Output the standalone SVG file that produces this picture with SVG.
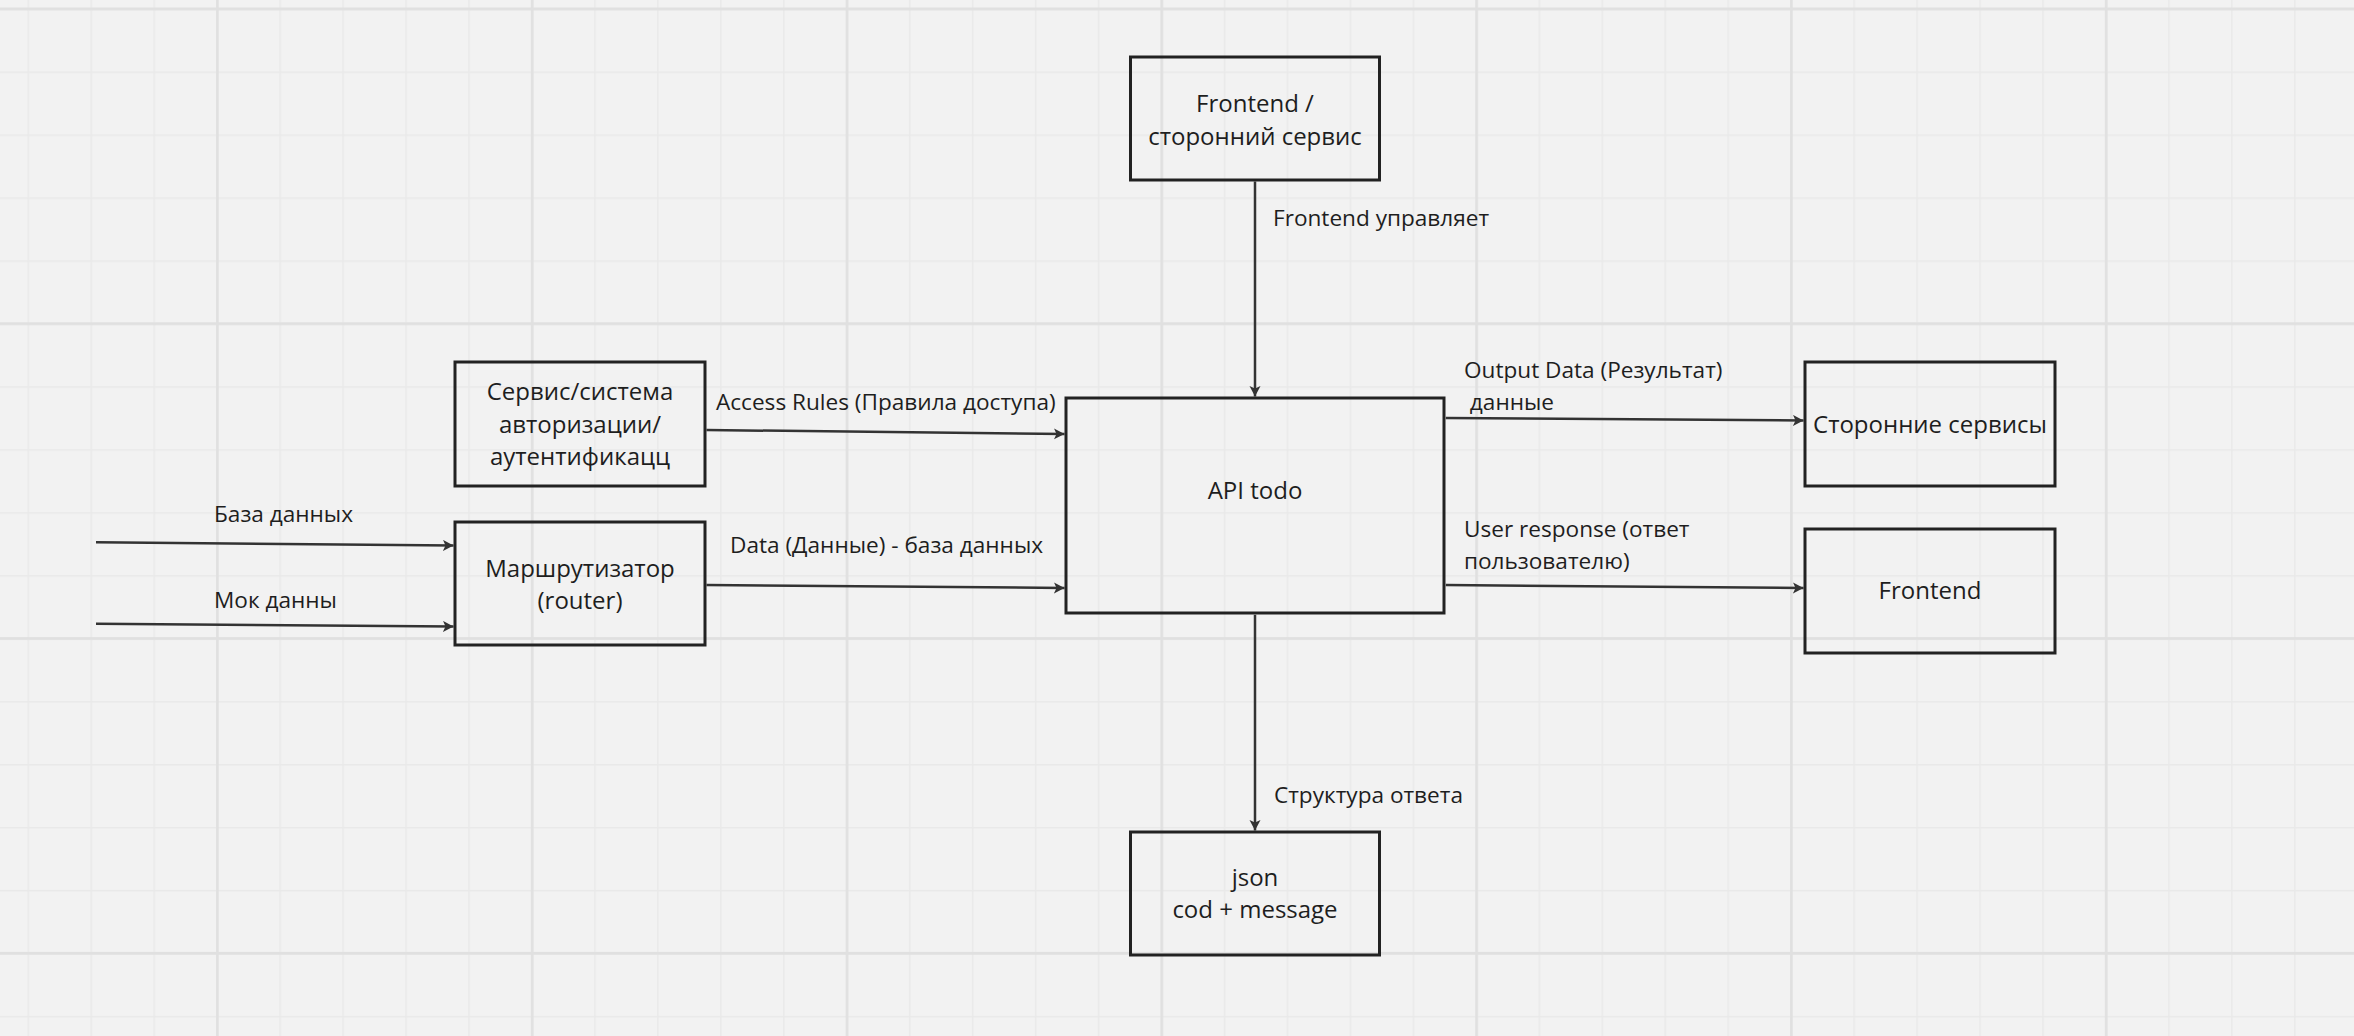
<svg xmlns="http://www.w3.org/2000/svg" width="2354" height="1036" viewBox="0 0 2354 1036">
<style>
.box{fill:none;stroke:#222;stroke-width:3}
.t{font-family:"Open Sans","Noto Sans","DejaVu Sans",sans-serif;font-size:24px;fill:#1e1e1e;text-anchor:middle}
.l{font-family:"Open Sans","Noto Sans","DejaVu Sans",sans-serif;font-size:22.6px;fill:#1e1e1e}
.c{fill:none;stroke:#333;stroke-width:2.5;marker-end:url(#ah)}
</style>
<defs>
<pattern id="minor" patternUnits="userSpaceOnUse" x="27.5" y="8.5" width="62.96" height="62.96">
<path d="M0.8 0 V62.96 M0 0.8 H62.96" stroke="#e9e9e9" stroke-width="1.5" fill="none"/>
</pattern>
<pattern id="major" patternUnits="userSpaceOnUse" x="216" y="7.5" width="314.8" height="314.8">
<path d="M1.4 0 V314.8 M0 1.4 H314.8" stroke="#e0e0e0" stroke-width="2.6" fill="none"/>
</pattern>
<marker id="ah" markerUnits="userSpaceOnUse" markerWidth="13" markerHeight="13" refX="10.5" refY="5.5" orient="auto">
<path d="M0,0 L10.5,5.5 L0,11 L2.5,5.5 Z" fill="#333"/>
</marker>
</defs>
<rect width="2354" height="1036" fill="#f2f2f2"/>
<rect width="2354" height="1036" fill="url(#minor)"/>
<rect width="2354" height="1036" fill="url(#major)"/>

<g id="connectors">
<path class="c" d="M1255 181.5 V396.5"/>
<path class="c" d="M706.5 430 L1064.5 434"/>
<path class="c" d="M706.5 585 L1064.5 588"/>
<path class="c" d="M96 542.3 L453.5 545.5"/>
<path class="c" d="M96 623.7 L453.5 626.5"/>
<path class="c" d="M1445.8 418 L1803.5 420.5"/>
<path class="c" d="M1445.8 585 L1803.5 588"/>
<path class="c" d="M1255 614.8 V830.5"/>
<text class="l" x="1273" y="226">Frontend управляет</text>
<text class="l" x="716" y="410">Access Rules (Правила доступа)</text>
<text class="l" x="730" y="553">Data (Данные) - база данных</text>
<text class="l" x="214" y="522">База данных</text>
<text class="l" x="214" y="608">Мок данны</text>
<text class="l" x="1464" y="378">Output Data (Результат)</text>
<text class="l" x="1464" y="410" xml:space="preserve"> данные</text>
<text class="l" x="1464" y="537">User response (ответ</text>
<text class="l" x="1464" y="569">пользователю)</text>
<text class="l" x="1274" y="803">Структура ответа</text>
</g>

<g id="frontend-service">
<rect class="box" x="1130.5" y="57" width="249" height="123"/>
<text class="t" x="1255" y="112">Frontend /</text>
<text class="t" x="1255" y="145">сторонний сервис</text>
</g>
<g id="auth-service">
<rect class="box" x="455" y="362" width="250" height="124"/>
<text class="t" x="580" y="400">Сервис/система</text>
<text class="t" x="580" y="433">авторизации/</text>
<text class="t" x="580" y="465">аутентификацц</text>
</g>
<g id="router">
<rect class="box" x="455" y="522" width="250" height="123"/>
<text class="t" x="580" y="577">Маршрутизатор</text>
<text class="t" x="580" y="609">(router)</text>
</g>
<g id="api">
<rect class="box" x="1066" y="398" width="378" height="215"/>
<text class="t" x="1255" y="499">API todo</text>
</g>
<g id="third-party">
<rect class="box" x="1805" y="362" width="250" height="124"/>
<text class="t" x="1930" y="433">Сторонние сервисы</text>
</g>
<g id="frontend">
<rect class="box" x="1805" y="529" width="250" height="124"/>
<text class="t" x="1930" y="599">Frontend</text>
</g>
<g id="json">
<rect class="box" x="1130.5" y="832" width="249" height="123"/>
<text class="t" x="1255" y="886">json</text>
<text class="t" x="1255" y="918">cod + message</text>
</g>
</svg>
